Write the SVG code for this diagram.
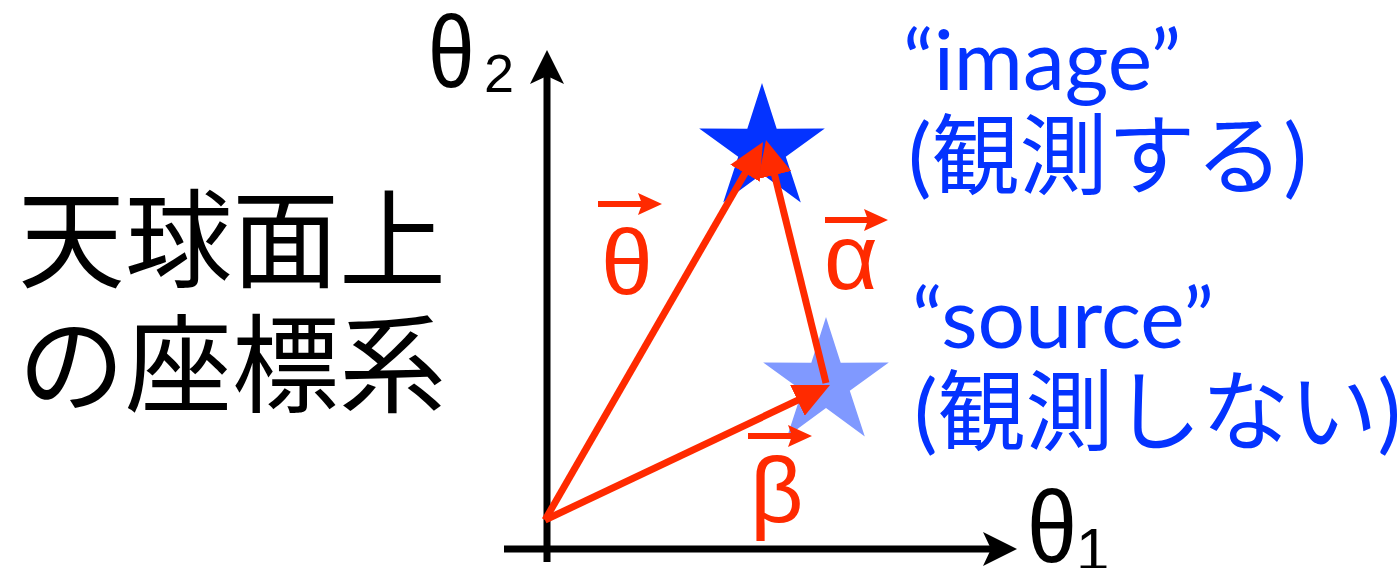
<svg xmlns="http://www.w3.org/2000/svg" width="1400" height="568" viewBox="0 0 1400 568">
  <style>
    .jp { font-family: "Noto Sans CJK JP", sans-serif; fill: #000; }
    .blue { font-family: "Lato", "Noto Sans CJK JP", sans-serif; fill: #0433ff; }
    .greek { font-family: "Liberation Sans", sans-serif; }
    .red { fill: #ff2a00; }
    .vec { stroke: #ff2a00; stroke-width: 7; fill: none; }
    .lbl { stroke: #ff2a00; stroke-width: 6; fill: none; }
    .axis { stroke: #000; stroke-width: 7; fill: none; }
  </style>
  <defs>
    <marker id="ah-red" viewBox="0 0 36 34" refX="11" refY="17" markerWidth="36" markerHeight="34" markerUnits="userSpaceOnUse" orient="auto">
      <path d="M0,0 L36,17 L0,34 z" fill="#ff2a00"/>
    </marker>
    <marker id="ah-small" viewBox="0 0 24 22" refX="10" refY="11" markerWidth="24" markerHeight="22" markerUnits="userSpaceOnUse" orient="auto">
      <path d="M0,0 L24,11 L0,22 L4,11 z" fill="#ff2a00"/>
    </marker>
    <marker id="ah-axis" viewBox="0 0 34 34" refX="14" refY="17" markerWidth="34" markerHeight="34" markerUnits="userSpaceOnUse" orient="auto">
      <path d="M0,0 L34,17 L0,34 L8,17 z" fill="#000"/>
    </marker>
    <polygon id="star" points="0,-66 14.7,-20.2 62.8,-20.4 23.8,7.7 38.8,53.4 0,25 -38.8,53.4 -23.8,7.7 -62.8,-20.4 -14.7,-20.2"/>
  </defs>

  <g id="title">
    <text class="jp" x="18" y="279" font-size="107">天球面上</text>
    <text class="jp" x="18" y="404" font-size="107">の座標系</text>
  </g>

  <g id="axes">
    <line class="axis" x1="547" y1="562" x2="547" y2="70" marker-end="url(#ah-axis)"/>
    <line class="axis" x1="504" y1="549" x2="997" y2="549" marker-end="url(#ah-axis)"/>
    <g id="theta2-label">
      <text class="greek" transform="translate(428,87) scale(0.82,1)" font-size="102">θ</text>
      <text class="greek" x="484" y="92" font-size="54">2</text>
    </g>
    <g id="theta1-label">
      <text class="greek" transform="translate(1027,562) scale(0.88,1)" font-size="102">θ</text>
      <text class="greek" x="1076" y="570" font-size="60">1</text>
    </g>
  </g>

  <g id="image-star">
    <use href="#star" x="762" y="149" fill="#0433ff"/>
  </g>
  <g id="source-star">
    <use href="#star" x="826" y="383" fill="#8099ff"/>
  </g>

  <g id="connectors">
    <line id="vec-theta" class="vec" x1="545" y1="520" x2="750.5" y2="163.7" marker-end="url(#ah-red)"/>
    <line id="vec-alpha" class="vec" x1="826" y1="383" x2="772" y2="164.3" marker-end="url(#ah-red)"/>
    <line id="vec-beta" class="vec" x1="545" y1="520" x2="807.4" y2="395.7" marker-end="url(#ah-red)"/>
  </g>

  <g id="label-theta">
    <line class="lbl" x1="598" y1="204" x2="648" y2="204" marker-end="url(#ah-small)"/>
    <text class="greek red" x="601" y="294" font-size="93">θ</text>
  </g>
  <g id="label-alpha">
    <line class="lbl" x1="825" y1="220" x2="874" y2="220" marker-end="url(#ah-small)"/>
    <text class="greek red" x="824" y="289" font-size="93">α</text>
  </g>
  <g id="label-beta">
    <line class="lbl" x1="748" y1="436" x2="798" y2="436" marker-end="url(#ah-small)"/>
    <text class="greek red" x="750" y="522" font-size="93">β</text>
  </g>

  <g id="image-label">
    <text class="blue" x="903" y="90" font-size="84">“image”</text>
    <text class="blue" x="908" y="187" font-size="88">(観測する)</text>
  </g>
  <g id="source-label">
    <text class="blue" x="912" y="348" font-size="84">“source”</text>
    <text class="blue" x="914" y="443" font-size="88">(観測しない)</text>
  </g>
</svg>
